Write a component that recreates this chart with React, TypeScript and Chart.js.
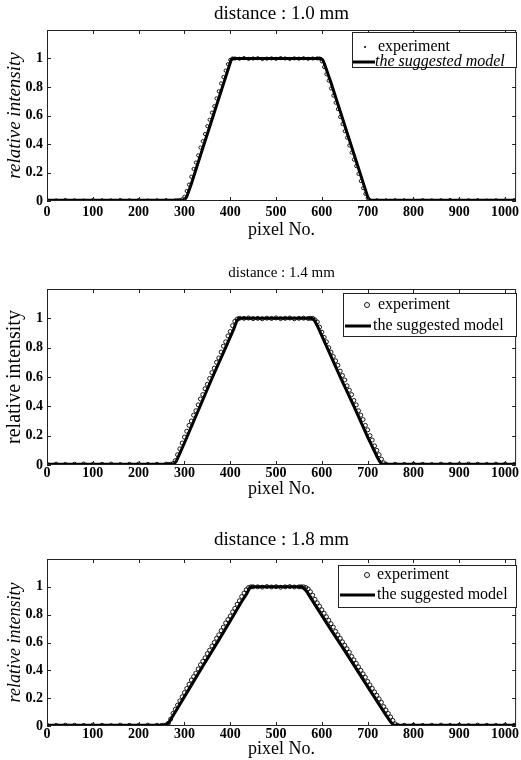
import React, { useEffect, useRef } from "react";
import { Chart, registerables } from "chart.js";

Chart.register(...registerables);

const FONT = "'Liberation Serif', 'Times New Roman', serif";

// ---------- tick labels / text ----------
const xTicks = [0, 100, 200, 300, 400, 500, 600, 700, 800, 900, 1000];
const yTicks = [0, 0.2, 0.4, 0.6, 0.8, 1];
const yTickLabels = ["0", "0.2", "0.4", "0.6", "0.8", "1"];
const titles = ["distance : 1.0 mm", "distance : 1.4 mm", "distance : 1.8 mm"];
const legendLabels = ["experiment", "the suggested model"];
const xLabel = "pixel No.";
const yLabel = "relative intensity";

// ---------- distance 1.0 mm ----------
const exp1X = [0, 20, 40, 60, 80, 100, 120, 140, 160, 180, 200, 220, 240, 260, 280,
  285, 290, 295, 300, 305, 310, 315, 320, 325, 330, 335, 340, 345, 350, 355, 360, 365, 370, 375, 380, 385, 390, 395, 400, 405,
  410, 420, 430, 440, 450, 460, 470, 480, 490, 500, 510, 520, 530, 540, 550, 560, 570, 580, 590,
  595, 600, 605, 610, 615, 620, 625, 630, 635, 640, 645, 650, 655, 660, 665, 670, 675, 680, 685, 690, 695, 700, 705,
  720, 740, 760, 780, 800, 820, 840, 860, 880, 900, 920, 940, 960, 980, 1000, 1020];
const exp1Y = [0.006, 0.004, 0.007, 0.005, 0.003, 0.006, 0.005, 0.004, 0.007, 0.005, 0.006, 0.003, 0.005, 0.006, 0.004,
  0.005, 0.006, 0.012, 0.03, 0.07, 0.115, 0.17, 0.225, 0.27, 0.32, 0.375, 0.42, 0.47, 0.525, 0.57, 0.62, 0.665, 0.72, 0.77, 0.825, 0.87, 0.915, 0.96, 0.99, 1.0,
  1.0, 0.998, 1.003, 0.997, 1.0, 1.002, 0.996, 0.999, 1.001, 0.998, 1.003, 1.0, 0.997, 1.001, 0.999, 1.002, 0.998, 1.0, 1.001,
  1.0, 0.98, 0.94, 0.89, 0.845, 0.79, 0.74, 0.69, 0.645, 0.59, 0.54, 0.49, 0.445, 0.39, 0.34, 0.29, 0.245, 0.19, 0.14, 0.09, 0.05, 0.02, 0.005,
  0.005, 0.004, 0.006, 0.005, 0.003, 0.006, 0.004, 0.005, 0.007, 0.004, 0.005, 0.006, 0.003, 0.005, 0.004, 0.006];
const model1X = [0, 296, 300, 305, 315, 330, 350, 370, 390, 398, 402, 406, 598, 602, 606, 620, 640, 660, 680, 695, 700, 704, 708, 1024];
const model1Y = [0.005, 0.005, 0.008, 0.03, 0.12, 0.27, 0.47, 0.67, 0.87, 0.95, 0.99, 1.0, 1.0, 0.99, 0.96, 0.83, 0.63, 0.43, 0.23, 0.08, 0.03, 0.008, 0.005, 0.005];

// ---------- distance 1.4 mm ----------
const exp2X = [0, 20, 40, 60, 80, 100, 120, 140, 160, 180, 200, 220, 240, 260,
  265, 270, 275, 280, 285, 290, 295, 300, 305, 310, 315, 320, 325, 330, 335, 340, 345, 350, 355, 360, 365, 370, 375, 380, 385, 390, 395, 400, 405, 410, 415, 420,
  430, 440, 450, 460, 470, 480, 490, 500, 510, 520, 530, 540, 550, 560, 570,
  575, 580, 585, 590, 595, 600, 605, 610, 615, 620, 625, 630, 635, 640, 645, 650, 655, 660, 665, 670, 675, 680, 685, 690, 695, 700, 705, 710, 715, 720, 725, 730, 735, 740,
  760, 780, 800, 820, 840, 860, 880, 900, 920, 940, 960, 980, 1000, 1020];
const exp2Y = [0.005, 0.006, 0.004, 0.005, 0.007, 0.004, 0.005, 0.006, 0.003, 0.005, 0.006, 0.004, 0.005, 0.006,
  0.004, 0.005, 0.01, 0.03, 0.07, 0.11, 0.15, 0.19, 0.23, 0.27, 0.30, 0.34, 0.37, 0.41, 0.45, 0.48, 0.52, 0.55, 0.59, 0.63, 0.66, 0.70, 0.73, 0.77, 0.81, 0.84, 0.88, 0.91, 0.95, 0.98, 0.995, 1.0,
  1.0, 1.002, 0.998, 1.0, 0.997, 1.001, 0.999, 1.003, 0.998, 1.0, 1.002, 0.997, 1.0, 1.001, 0.999,
  1.0, 1.0, 0.99, 0.975, 0.94, 0.905, 0.87, 0.84, 0.80, 0.77, 0.74, 0.71, 0.68, 0.64, 0.61, 0.58, 0.54, 0.51, 0.48, 0.44, 0.41, 0.37, 0.34, 0.31, 0.27, 0.24, 0.20, 0.17, 0.13, 0.10, 0.07, 0.04, 0.015, 0.005,
  0.005, 0.004, 0.006, 0.005, 0.003, 0.006, 0.005, 0.004, 0.006, 0.005, 0.004, 0.006, 0.005, 0.004];
const model2X = [0, 274, 278, 283, 300, 330, 360, 390, 408, 414, 419, 578, 583, 590, 610, 640, 670, 700, 720, 726, 730, 734, 1024];
const model2Y = [0.005, 0.005, 0.008, 0.03, 0.15, 0.37, 0.59, 0.80, 0.93, 0.98, 1.0, 1.0, 0.99, 0.95, 0.81, 0.60, 0.40, 0.19, 0.06, 0.025, 0.008, 0.005, 0.005];

// ---------- distance 1.8 mm ----------
const exp3X = [0, 20, 40, 60, 80, 100, 120, 140, 160, 180, 200, 220, 240,
  250, 255, 260, 265, 270, 275, 280, 285, 290, 295, 300, 305, 310, 315, 320, 325, 330, 335, 340, 345, 350, 355, 360, 365, 370, 375, 380, 385, 390, 395, 400, 405, 410, 415, 420, 425, 430, 435, 440, 445, 450,
  460, 470, 480, 490, 500, 510, 520, 530, 540, 550,
  555, 560, 565, 570, 575, 580, 585, 590, 595, 600, 605, 610, 615, 620, 625, 630, 635, 640, 645, 650, 655, 660, 665, 670, 675, 680, 685, 690, 695, 700, 705, 710, 715, 720, 725, 730, 735, 740, 745, 750, 755, 760, 765,
  780, 800, 820, 840, 860, 880, 900, 920, 940, 960, 980, 1000, 1020];
const exp3Y = [0.005, 0.004, 0.006, 0.005, 0.004, 0.006, 0.005, 0.003, 0.006, 0.005, 0.004, 0.006, 0.005,
  0.004, 0.005, 0.008, 0.02, 0.05, 0.09, 0.12, 0.15, 0.18, 0.21, 0.24, 0.27, 0.30, 0.33, 0.355, 0.38, 0.41, 0.44, 0.465, 0.49, 0.52, 0.545, 0.575, 0.60, 0.63, 0.655, 0.685, 0.71, 0.74, 0.765, 0.79, 0.82, 0.845, 0.875, 0.90, 0.93, 0.955, 0.98, 0.995, 1.0, 1.0,
  1.0, 0.998, 1.002, 0.999, 1.001, 0.997, 1.0, 1.002, 0.999, 1.0,
  1.0, 1.0, 0.995, 0.985, 0.965, 0.94, 0.91, 0.885, 0.86, 0.835, 0.81, 0.785, 0.76, 0.735, 0.71, 0.68, 0.655, 0.63, 0.605, 0.58, 0.555, 0.53, 0.50, 0.475, 0.45, 0.425, 0.40, 0.375, 0.35, 0.32, 0.295, 0.27, 0.245, 0.22, 0.195, 0.17, 0.14, 0.115, 0.09, 0.065, 0.04, 0.015, 0.005,
  0.005, 0.006, 0.004, 0.005, 0.006, 0.004, 0.005, 0.003, 0.006, 0.005, 0.004, 0.006, 0.005];
const model3X = [0, 256, 260, 266, 280, 310, 340, 370, 400, 425, 436, 442, 446, 556, 560, 566, 590, 620, 650, 680, 710, 740, 750, 755, 759, 1024];
const model3Y = [0.005, 0.005, 0.008, 0.025, 0.10, 0.265, 0.43, 0.59, 0.755, 0.895, 0.95, 0.99, 1.0, 1.0, 0.99, 0.97, 0.845, 0.69, 0.54, 0.385, 0.23, 0.077, 0.03, 0.01, 0.005, 0.005];

const X_MAX = 1024;
const Y_MAX = 1.2;

type Layout = {
  top: number; height: number; padTop: number; xAxisH: number; tickPad: number;
  titleY: number; titleSize: number; xLabelY: number; xLabelSize: number;
  yLabelX: number; yLabelSize: number; yLabelItalic: boolean;
  box: [number, number, number, number];
  expY: number; modelY: number; markerX: number; expTextX: number; modelTextX: number;
  lineX: [number, number]; modelItalic: boolean; modelSize: number; dotMarker: boolean; pointRadius: number;
};

const layouts: Layout[] = [
  {
    top: 0, height: 250, padTop: 30, xAxisH: 49, tickPad: 3,
    titleY: 14, titleSize: 19, xLabelY: 230, xLabelSize: 18,
    yLabelX: 15, yLabelSize: 19, yLabelItalic: true,
    box: [352, 32, 517, 68], expY: 47, modelY: 62, markerX: 365, expTextX: 378, modelTextX: 375,
    lineX: [353, 375], modelItalic: true, modelSize: 16, dotMarker: true, pointRadius: 1.6,
  },
  {
    top: 250, height: 255, padTop: 39, xAxisH: 40, tickPad: 0,
    titleY: 273, titleSize: 15, xLabelY: 489, xLabelSize: 18,
    yLabelX: 15, yLabelSize: 20, yLabelItalic: false,
    box: [343, 293, 517, 337], expY: 305, modelY: 326, markerX: 367, expTextX: 378, modelTextX: 373,
    lineX: [345, 371], modelItalic: false, modelSize: 16, dotMarker: false, pointRadius: 2,
  },
  {
    top: 505, height: 255, padTop: 54, xAxisH: 34, tickPad: 0,
    titleY: 540, titleSize: 19, xLabelY: 749, xLabelSize: 18,
    yLabelX: 15, yLabelSize: 18, yLabelItalic: true,
    box: [338, 565, 517, 608], expY: 575, modelY: 595, markerX: 367, expTextX: 377, modelTextX: 377,
    lineX: [340, 375], modelItalic: false, modelSize: 16, dotMarker: false, pointRadius: 2,
  },
];

const series = [
  { expX: exp1X, expY: exp1Y, modelX: model1X, modelY: model1Y },
  { expX: exp2X, expY: exp2Y, modelX: model2X, modelY: model2Y },
  { expX: exp3X, expY: exp3Y, modelX: model3X, modelY: model3Y },
];

function toPoints(xs: number[], ys: number[]) {
  const out: { x: number; y: number }[] = [];
  for (let i = 0; i < xs.length && i < ys.length; i++) out.push({ x: xs[i], y: ys[i] });
  return out;
}

function Panel({ idx }: { idx: number }) {
  const ref = useRef<HTMLCanvasElement>(null);
  const L = layouts[idx];
  const S = series[idx];

  useEffect(() => {
    const canvas = ref.current!;
    const T = L.top;
    const tickFont = { family: FONT, size: 14, weight: "bold" as const };

    const decor = {
      id: "decor" + idx,
      afterDraw(chart: any) {
        const ctx = chart.ctx as CanvasRenderingContext2D;
        const { left, right, top, bottom } = chart.chartArea;
        const xs = chart.scales.x;
        const ys = chart.scales.y;
        ctx.save();
        // frame
        ctx.strokeStyle = "#222";
        ctx.lineWidth = 1;
        ctx.strokeRect(left + 0.5, top + 0.5, right - left - 1, bottom - top - 1);
        // inward ticks
        ctx.beginPath();
        for (const v of xTicks) {
          const px = Math.round(xs.getPixelForValue(v)) + 0.5;
          ctx.moveTo(px, bottom); ctx.lineTo(px, bottom - 4);
          ctx.moveTo(px, top); ctx.lineTo(px, top + 4);
        }
        for (const v of yTicks) {
          const py = Math.round(ys.getPixelForValue(v)) + 0.5;
          ctx.moveTo(left, py); ctx.lineTo(left + 4, py);
          ctx.moveTo(right, py); ctx.lineTo(right - 4, py);
        }
        ctx.stroke();

        ctx.fillStyle = "#000";
        ctx.textBaseline = "middle";
        // title
        ctx.textAlign = "center";
        ctx.font = `${L.titleSize}px ${FONT}`;
        ctx.fillText(titles[idx], (left + right) / 2, L.titleY - T);
        // x label
        ctx.font = `${L.xLabelSize}px ${FONT}`;
        ctx.fillText(xLabel, (left + right) / 2, L.xLabelY - T);
        // y label
        ctx.save();
        ctx.translate(L.yLabelX, (top + bottom) / 2);
        ctx.rotate(-Math.PI / 2);
        ctx.font = `${L.yLabelItalic ? "italic " : ""}${L.yLabelSize}px ${FONT}`;
        ctx.fillText(yLabel, 0, 0);
        ctx.restore();

        // legend
        const [bx1, by1, bx2, by2] = L.box;
        ctx.fillStyle = "#fff";
        ctx.fillRect(bx1, by1 - T, bx2 - bx1, by2 - by1);
        ctx.strokeStyle = "#222";
        ctx.lineWidth = 1;
        ctx.strokeRect(bx1 + 0.5, by1 - T + 0.5, bx2 - bx1 - 1, by2 - by1 - 1);
        ctx.strokeStyle = "#000";
        ctx.fillStyle = "#000";
        if (L.dotMarker) {
          ctx.beginPath();
          ctx.arc(L.markerX, L.expY - T, 1, 0, Math.PI * 2);
          ctx.fill();
        } else {
          ctx.beginPath();
          ctx.lineWidth = 0.9;
          ctx.arc(L.markerX, L.expY - T, 2.5, 0, Math.PI * 2);
          ctx.stroke();
        }
        ctx.beginPath();
        ctx.lineWidth = 3;
        ctx.moveTo(L.lineX[0], L.modelY - T);
        ctx.lineTo(L.lineX[1], L.modelY - T);
        ctx.stroke();
        ctx.textAlign = "left";
        ctx.font = `16px ${FONT}`;
        ctx.fillText(legendLabels[0], L.expTextX, L.expY - T);
        ctx.font = `${L.modelItalic ? "italic " : ""}${L.modelSize}px ${FONT}`;
        ctx.fillText(legendLabels[1], L.modelTextX, L.modelY - T);
        ctx.restore();
      },
    };

    const chart = new Chart(canvas, {
      type: "scatter",
      data: {
        datasets: [
          {
            label: legendLabels[1],
            data: toPoints(S.modelX, S.modelY),
            showLine: true,
            borderColor: "#000",
            borderWidth: 3,
            pointRadius: 0,
            tension: 0,
            order: 0,
          } as any,
          {
            label: legendLabels[0],
            data: toPoints(S.expX, S.expY),
            showLine: false,
            pointRadius: L.pointRadius,
            pointBorderWidth: 0.9,
            pointBorderColor: "#000",
            pointBackgroundColor: "rgba(0,0,0,0)",
            order: 1,
          } as any,
        ],
      },
      options: {
        animation: false,
        responsive: false,
        devicePixelRatio: 1,
        events: [],
        layout: { padding: { top: L.padTop, left: 0, right: 4, bottom: 0 } },
        plugins: {
          legend: { display: false },
          title: { display: false },
          tooltip: { enabled: false },
        },
        scales: {
          x: {
            type: "linear",
            min: 0,
            max: X_MAX,
            grid: { display: false, drawTicks: false },
            border: { display: false },
            afterBuildTicks: (s: any) => { s.ticks = xTicks.map((v) => ({ value: v })); },
            afterFit: (s: any) => { s.height = L.xAxisH; s.paddingLeft = 0; s.paddingRight = 0; },
            ticks: {
              font: tickFont,
              color: "#000",
              padding: L.tickPad,
              maxRotation: 0,
              autoSkip: false,
              callback: (v: any) => String(v),
            },
          },
          y: {
            type: "linear",
            min: 0,
            max: Y_MAX,
            grid: { display: false, drawTicks: false },
            border: { display: false },
            afterBuildTicks: (s: any) => { s.ticks = yTicks.map((v) => ({ value: v })); },
            afterFit: (s: any) => { s.width = 47; s.paddingTop = 0; s.paddingBottom = 0; },
            ticks: {
              font: tickFont,
              color: "#000",
              padding: 4,
              autoSkip: false,
              callback: (_v: any, i: number) => yTickLabels[i],
            },
          },
        },
      },
      plugins: [decor],
    } as any);
    return () => chart.destroy();
  }, []);

  return (
    <canvas
      ref={ref}
      width={521}
      height={L.height}
      style={{ position: "absolute", left: 0, top: L.top, width: 521, height: L.height, display: "block" }}
    />
  );
}

export default function App() {
  return (
    <div style={{ position: "absolute", left: 0, top: 0, width: 521, height: 760, background: "#fff", overflow: "hidden" }}>
      <Panel idx={0} />
      <Panel idx={1} />
      <Panel idx={2} />
    </div>
  );
}
